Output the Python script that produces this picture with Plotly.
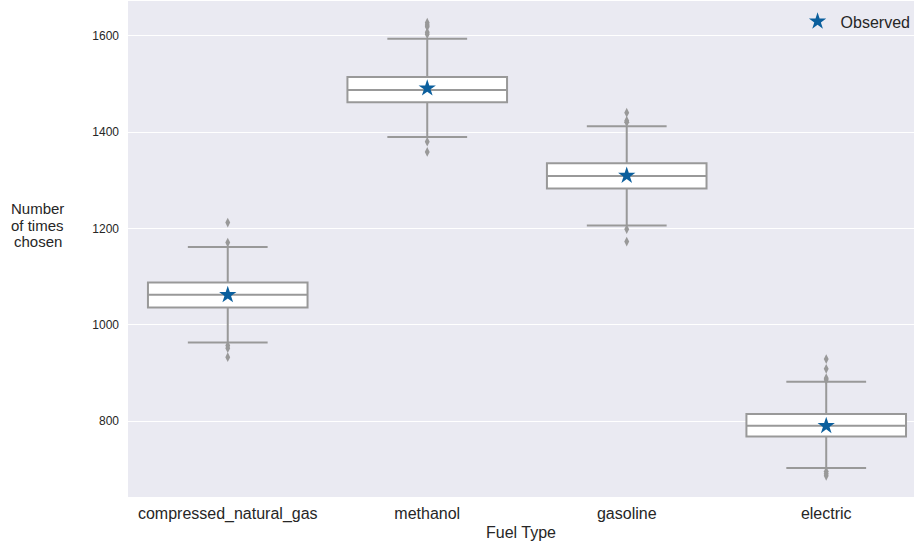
import plotly.graph_objects as go

categories = ["compressed_natural_gas", "methanol", "gasoline", "electric"]
q1 = [1035.7, 1462.3, 1282.9, 767.8]
median = [1062.1, 1487.9, 1309.2, 790.0]
q3 = [1087.6, 1514.8, 1335.6, 814.3]
lower_whisker = [963.0, 1390.2, 1206.0, 702.2]
upper_whisker = [1161.8, 1594.4, 1412.5, 881.4]
outliers = {
    "compressed_natural_gas": [1212.3, 1170.7, 956.8, 951.4, 932.7],
    "methanol": [1627.6, 1622.8, 1619.3, 1607.7, 1603.5, 1380.5, 1359.1],
    "gasoline": [1440.7, 1424.1, 1420.8, 1198.5, 1172.8],
    "electric": [928.6, 908.4, 889.1, 885.6, 695.1, 690.4, 686.2],
}
observed = [1062.0, 1491.4, 1310.0, 790.0]
ylabel_lines = ["Number", "of times", "chosen"]

gray = "#999999"
fig = go.Figure()
fig.add_trace(go.Box(
    x=categories, q1=q1, median=median, q3=q3,
    lowerfence=lower_whisker, upperfence=upper_whisker,
    boxpoints=False, fillcolor="white",
    line=dict(color=gray, width=2), whiskerwidth=0.5,
    width=0.8, showlegend=False, hoverinfo="skip",
))
ox, oy = [], []
for c in categories:
    for v in outliers[c]:
        ox.append(c)
        oy.append(v)
fig.add_trace(go.Scatter(
    x=ox, y=oy, mode="markers", showlegend=False,
    marker=dict(symbol="diamond-tall", size=7, color=gray, line=dict(width=0)),
))
fig.add_trace(go.Scatter(
    x=categories, y=observed, mode="markers", name="Observed",
    marker=dict(symbol="star", size=13, color="#0b5f9d", line=dict(width=0)),
))

annotations = []
for i, t in enumerate(ylabel_lines):
    annotations.append(dict(text=t, xref="paper", yref="y",
                            x=-0.115, y=1207, yshift=16.5 * (1 - i),
                            xanchor="center", yanchor="middle",
                            showarrow=False, font=dict(size=15, color="#262626")))

fig.update_layout(
    width=917, height=546,
    margin=dict(l=128, r=1, t=1, b=49),
    plot_bgcolor="#EAEAF2", paper_bgcolor="white",
    font=dict(family="Liberation Sans, Arial, sans-serif", color="#262626"),
    legend=dict(x=1.002, y=0.993, xanchor="right", yanchor="top", bgcolor="rgba(0,0,0,0)",
                font=dict(size=16), itemwidth=36),
    xaxis=dict(showgrid=False, zeroline=False, showline=False, ticks="",
               tickfont=dict(size=16), ticklabelstandoff=5,
               title=dict(text="Fuel Type", font=dict(size=16), standoff=4),
               range=[-0.5, 3.44]),
    yaxis=dict(range=[642.1, 1672.7], tickvals=[800, 1000, 1200, 1400, 1600],
               gridcolor="white", gridwidth=1, zeroline=False, showline=False,
               ticks="", tickfont=dict(size=12), ticklabelstandoff=8),
    annotations=annotations,
)
fig.write_html("out.html", config={"displayModeBar": False},
               post_script="document.body.style.margin='0';document.body.style.padding='0';")
